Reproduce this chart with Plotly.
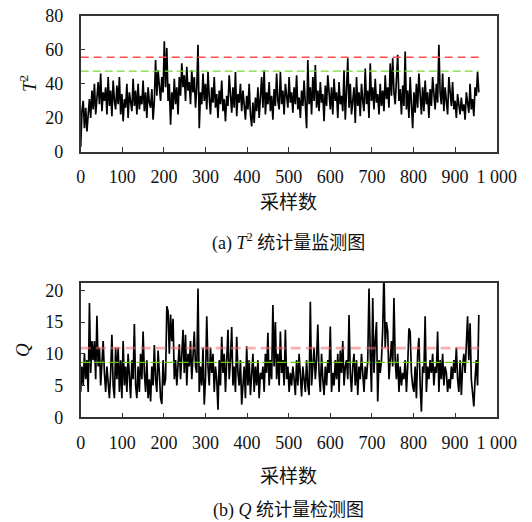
import numpy as np
import plotly.graph_objects as go

# ---------------- data ----------------
SAMPLE_STEP = 3  # one value every 3 samples

T2_VALUES = [
    3, 24, 30, 14, 26, 12, 22, 31, 20, 36,
    25, 40, 22, 33, 41, 28, 46, 24, 35, 30,
    38, 22, 44, 27, 36, 21, 42, 30, 25, 39,
    28, 44, 22, 34, 18, 31, 26, 40, 20, 35,
    30, 24, 43, 27, 36, 22, 40, 25, 33, 28,
    42, 24, 35, 20, 38, 29, 26, 37, 19, 30,
    54, 33, 48, 36, 30, 44, 35, 65, 38, 61,
    30, 40, 16, 35, 25, 43, 28, 38, 22, 44,
    33, 52, 38, 45, 30, 50, 36, 41, 28, 48,
    35, 44, 26, 38, 63, 14, 35, 28, 46, 30,
    40, 25, 47, 32, 22, 38, 29, 44, 26, 34,
    20, 36, 28, 42, 24, 31, 18, 33, 27, 45,
    30, 23, 38, 26, 47, 21, 34, 29, 40, 24,
    36, 28, 19, 33, 25, 40, 22, 15, 29, 17,
    32, 24, 38, 20, 30, 44, 26, 48, 22, 35,
    28, 41, 24, 33, 19, 37, 27, 46, 30, 25,
    47, 28, 36, 22, 40, 31, 26, 44, 29, 35,
    23, 38, 28, 45, 25, 32, 20, 36, 27, 42,
    30, 14, 54, 28, 38, 22, 44, 30, 51, 26,
    36, 24, 41, 29, 34, 18, 39, 27, 45, 31,
    25, 38, 22, 43, 30, 35, 20, 41, 28, 33,
    24, 48, 19, 36, 55, 26, 40, 22, 33, 38,
    17, 44, 27, 35, 21, 40, 30, 24, 49, 28,
    36, 20, 52, 30, 38, 25, 43, 29, 34, 22,
    40, 27, 36, 24, 45, 31, 38, 26, 52, 33,
    55, 35, 28, 41, 57, 30, 37, 22, 39, 27,
    59, 25, 36, 20, 44, 28, 14, 35, 23, 40,
    26, 46, 30, 22, 38, 24, 42, 28, 35, 20,
    37, 27, 44, 31, 25, 40, 29, 63, 35, 28,
    46, 24, 38, 30, 22, 44, 33, 27, 41, 25,
    30, 20, 34, 26, 22, 32, 24, 28, 19, 35,
    27, 23, 40, 25, 31, 21, 38, 33, 47, 35,
]

Q_VALUES = [
    4, 8, 5, 10, 6, 9, 4, 18, 7, 12,
    9, 12, 6, 16, 8, 11, 5, 9, 12, 7,
    4, 8, 6, 3, 7, 13, 5, 3, 11, 6,
    11, 4, 9, 3, 12, 5, 8, 4, 10, 6,
    3, 9, 6, 14.7, 5, 3, 8, 4, 10, 6,
    13.5, 7, 4, 9, 3, 6, 2.5, 8, 5, 11.4,
    6, 4, 10.5, 7, 3, 2.1, 9, 5, 6, 17.5,
    16.7, 10, 16.2, 12, 15.5, 6, 9, 5, 8, 11.5,
    6, 9, 13.8, 7, 13, 5, 10, 8, 12, 6,
    9, 13.5, 8, 7, 20.3, 4, 8, 5, 11, 2,
    6, 15.9, 8, 5, 11, 7, 10, 4, 8, 6,
    1.2, 9, 5, 12.7, 7, 10, 4, 8, 13.8, 6,
    9, 14.2, 5, 8, 4, 12.7, 7, 5, 9, 2,
    6, 8, 3, 11.2, 5, 9, 3.5, 7, 10, 4,
    8, 5, 9, 3, 7, 6, 8, 4, 10, 7,
    13.3, 5, 9, 6, 17.7, 8, 15, 6, 10, 5,
    13.5, 7, 9, 5, 13.8, 6, 8, 4, 7, 5,
    8, 6, 3.5, 9, 5, 10, 7, 3.3, 8, 6,
    4, 9, 5, 3.5, 18.2, 5, 8, 11, 6, 9,
    14.6, 7, 4, 10, 6, 3.5, 8, 5, 9, 7,
    14.3, 4, 7, 5, 9, 6, 10, 4, 10.5, 7,
    12, 5, 8, 9, 6, 16.1, 7, 4, 8, 10,
    5, 9, 3.5, 8, 6, 10, 7, 4, 8, 6,
    9, 20.3, 10, 4, 18.8, 7, 12, 15, 2.5, 9,
    7, 9, 14, 23, 11, 15, 13.5, 6, 9, 12,
    8, 18.8, 9, 6, 10, 4, 8, 5, 7, 6,
    9, 4, 8, 14, 13.5, 7, 5, 4, 8, 3,
    10, 12.5, 5, 0.9, 8, 7, 15.9, 4, 8, 6,
    9, 7, 10, 5, 8, 7, 13.5, 4, 9, 6,
    10, 5, 8, 7, 4, 6, 4.5, 8, 6, 9,
    7, 11, 6, 4, 9, 3.5, 8, 10, 7, 12.5,
    15.9, 9, 14.8, 6, 3, 1.7, 6, 9, 5, 16.1,
]

T2_LIMIT_RED = 55.6
T2_LIMIT_GREEN = 47.5
Q_LIMIT_RED = 10.9
Q_LIMIT_GREEN = 8.65

X_TICKS = [0, 100, 200, 300, 400, 500, 600, 700, 800, 900, 1000]
X_TICK_LABELS = ["0", "100", "200", "300", "400", "500", "600", "700", "800", "900", "1 000"]
T2_Y_TICKS = [0, 20, 40, 60, 80]
Q_Y_TICKS = [0, 5, 10, 15, 20]

X_TITLE = "采样数"
T2_Y_TITLE = "<i>T</i><sup>2</sup>"
Q_Y_TITLE = "<i>Q</i>"
CAPTION_A = "(a) <i>T</i><sup>2</sup> 统计量监测图"
CAPTION_B = "(b) <i>Q</i> 统计量检测图"

# ---------------- figure ----------------
W, H = 532, 522
FONT = "Liberation Serif, Times New Roman, Noto Sans CJK SC, serif"

t2_x = np.arange(len(T2_VALUES)) * SAMPLE_STEP
q_x = np.arange(len(Q_VALUES)) * SAMPLE_STEP


def fx(px):
    return px / W


def fy(py):
    return 1 - py / H


fig = go.Figure()

fig.add_trace(go.Scatter(x=t2_x, y=T2_VALUES, mode="lines",
                         line=dict(color="black", width=1.7),
                         xaxis="x", yaxis="y", showlegend=False))
t2_span = [t2_x[0], t2_x[-1]]
fig.add_trace(go.Scatter(x=t2_span, y=[T2_LIMIT_RED] * 2, mode="lines",
                         line=dict(color="#ff4a4a", width=1.3, dash="8px,5px"),
                         xaxis="x", yaxis="y", showlegend=False))
fig.add_trace(go.Scatter(x=t2_span, y=[T2_LIMIT_GREEN] * 2, mode="lines",
                         line=dict(color="#78d838", width=1.3, dash="8px,4px"),
                         xaxis="x", yaxis="y", showlegend=False))

fig.add_trace(go.Scatter(x=q_x, y=Q_VALUES, mode="lines",
                         line=dict(color="black", width=1.7),
                         xaxis="x2", yaxis="y2", showlegend=False))
q_span = [q_x[0], q_x[-1]]
fig.add_trace(go.Scatter(x=q_span, y=[Q_LIMIT_RED] * 2, mode="lines",
                         line=dict(color="rgba(240,110,110,0.55)", width=2.6, dash="10px,5px"),
                         xaxis="x2", yaxis="y2", showlegend=False))
fig.add_trace(go.Scatter(x=q_span, y=[Q_LIMIT_GREEN] * 2, mode="lines",
                         line=dict(color="#5fcc10", width=1.2, dash="10px,4px"),
                         xaxis="x2", yaxis="y2", showlegend=False))

axis_common = dict(showline=True, linecolor="#333333", linewidth=1.5, mirror=True,
                   ticks="inside", ticklen=5, tickwidth=1.2, tickcolor="#333333",
                   showgrid=False, zeroline=False, automargin=False,
                   ticklabeloverflow="allow",
                   tickfont=dict(family=FONT, size=18, color="#111111"))

x_dom = [fx(80.7), fx(496.7)]
fig.update_layout(
    width=W, height=H, autosize=False,
    margin=dict(l=0, r=0, t=0, b=0, pad=0, autoexpand=False),
    paper_bgcolor="white", plot_bgcolor="white",
    xaxis=dict(domain=x_dom, range=[0, 1000], tickvals=X_TICKS, ticktext=X_TICK_LABELS,
               anchor="y", ticklabelstandoff=8, **axis_common),
    yaxis=dict(domain=[fy(152), fy(15.7)], range=[0, 80], tickvals=T2_Y_TICKS,
               anchor="x", ticklabelstandoff=12, **axis_common),
    xaxis2=dict(domain=x_dom, range=[0, 1000], tickvals=X_TICKS, ticktext=X_TICK_LABELS,
                anchor="y2", ticklabelstandoff=8, **axis_common),
    yaxis2=dict(domain=[fy(417.3), fy(282.7)], range=[0, 21.2], tickvals=Q_Y_TICKS,
                anchor="x2", ticklabelstandoff=12, **axis_common),
)

ann_font = dict(family=FONT, size=19, color="#111111")
cap_font = dict(family=FONT, size=18, color="#111111")
x_center = fx(288.7)
annotations = [
    dict(text=X_TITLE, x=x_center, y=fy(203), font=ann_font),
    dict(text=CAPTION_A, x=x_center, y=fy(242), font=cap_font),
    dict(text=X_TITLE, x=x_center, y=fy(476), font=ann_font),
    dict(text=CAPTION_B, x=x_center, y=fy(510), font=cap_font),
    dict(text=T2_Y_TITLE, x=fx(28), y=fy(84), font=ann_font, textangle=-90),
    dict(text=Q_Y_TITLE, x=fx(22), y=fy(350), font=ann_font, textangle=-90),
]
for a in annotations:
    a.update(xref="paper", yref="paper", showarrow=False, xanchor="center", yanchor="middle")
fig.update_layout(annotations=annotations)

# remove the default 8px page margin so the figure sits at the window's top-left corner
fig.write_html("out.html", config={"displayModeBar": False},
               post_script="document.body.style.margin='0';")
